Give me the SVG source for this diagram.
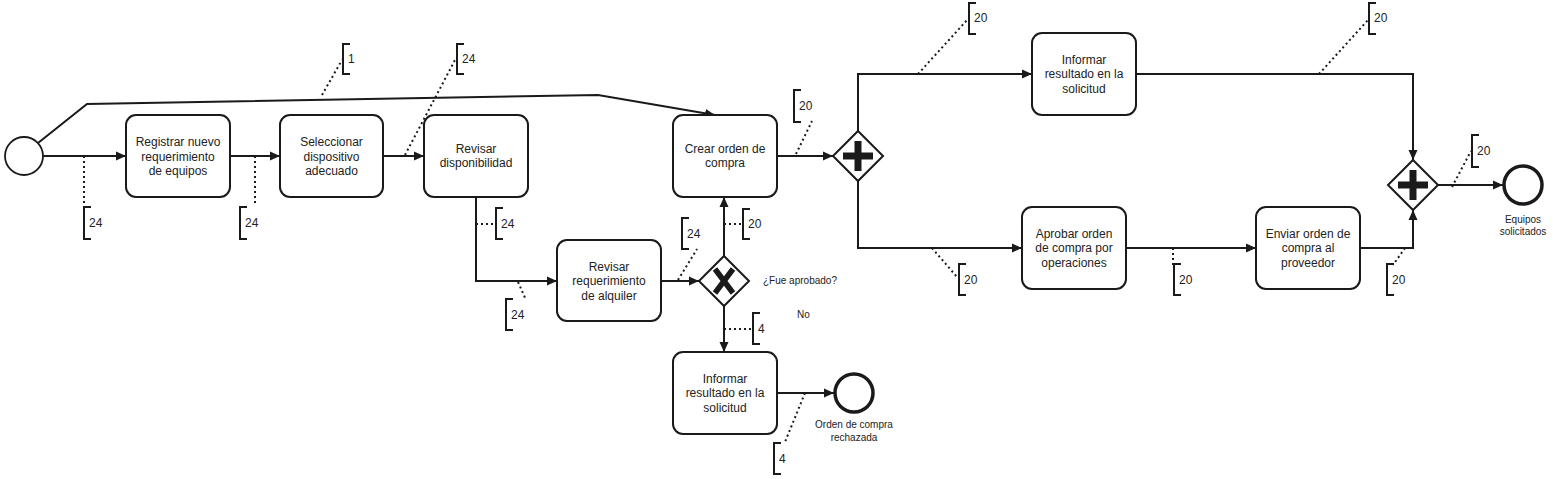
<svg xmlns="http://www.w3.org/2000/svg" width="1553" height="479" viewBox="0 0 1553 479">
<style>
.task{fill:#fff;stroke:#1a1a1a;stroke-width:2}
.t{font-family:"Liberation Sans",Arial,sans-serif;font-size:12px;fill:#222;text-anchor:middle}
.s{font-family:"Liberation Sans",Arial,sans-serif;font-size:10px;fill:#222}
.a{font-family:"Liberation Sans",Arial,sans-serif;font-size:12px;fill:#222}
.edge{fill:none;stroke:#1a1a1a;stroke-width:2;marker-end:url(#arr)}
.dot{fill:none;stroke:#1a1a1a;stroke-width:2;stroke-dasharray:2 3}
.br{fill:none;stroke:#1a1a1a;stroke-width:2}
.gw{fill:#fff;stroke:#1a1a1a;stroke-width:2}
</style>
<defs>
<marker id="arr" markerUnits="userSpaceOnUse" markerWidth="11" markerHeight="10" refX="10" refY="5" orient="auto">
<path d="M0,0.5 L10,5 L0,9.5 z" fill="#1a1a1a"/>
</marker>
</defs>
<rect width="1553" height="479" fill="#fff"/>

<g id="connectors">
<path class="edge" d="M43,156 H126"/>
<path class="edge" d="M38,143 L87,104 L598,95 L715,115"/>
<path class="edge" d="M230,156 H280"/>
<path class="edge" d="M383,156 H424"/>
<path class="edge" d="M476,197 V281 H557"/>
<path class="edge" d="M661,281 H699"/>
<path class="edge" d="M724,256 V197"/>
<path class="edge" d="M724,305 V352"/>
<path class="edge" d="M777,393 H834"/>
<path class="edge" d="M777,156 H833"/>
<path class="edge" d="M858,131 V74 H1032"/>
<path class="edge" d="M858,181 V248 H1022"/>
<path class="edge" d="M1126,248 H1256"/>
<path class="edge" d="M1136,74 H1413 V160"/>
<path class="edge" d="M1360,248 H1413 V210"/>
<path class="edge" d="M1438,185 H1503"/>
</g>

<g id="annotations">
<path class="dot" d="M84,156 V206"/>
<path class="br" d="M91,207 H84 V239 H91"/><text class="a" x="89" y="227">24</text>
<path class="dot" d="M255,156 V206"/>
<path class="br" d="M247,207 H240 V239 H247"/><text class="a" x="245" y="227">24</text>
<path class="dot" d="M322,95 L342,60"/>
<path class="br" d="M350,44 H343 V74 H350"/><text class="a" x="348" y="63">1</text>
<path class="dot" d="M405,155 L455,60"/>
<path class="br" d="M464,44 H457 V74 H464"/><text class="a" x="462" y="63">24</text>
<path class="dot" d="M476,224 H496"/>
<path class="br" d="M503,208 H496 V239 H503"/><text class="a" x="501" y="228">24</text>
<path class="dot" d="M518,282 L526,300"/>
<path class="br" d="M513,299 H506 V330 H513"/><text class="a" x="511" y="319">24</text>
<path class="dot" d="M678,280 L697,249"/>
<path class="br" d="M689,218 H682 V249 H689"/><text class="a" x="687" y="238">24</text>
<path class="dot" d="M724,224 H743"/>
<path class="br" d="M750,209 H743 V239 H750"/><text class="a" x="748" y="228">20</text>
<path class="dot" d="M724,329 H753"/>
<path class="br" d="M760,313 H753 V344 H760"/><text class="a" x="758" y="333">4</text>
<path class="dot" d="M805,393 L785,442"/>
<path class="br" d="M781,443 H774 V474 H781"/><text class="a" x="779" y="463">4</text>
<path class="dot" d="M796,154 L812,121"/>
<path class="br" d="M801,90 H794 V122 H801"/><text class="a" x="799" y="110">20</text>
<path class="dot" d="M918,74 L968,19"/>
<path class="br" d="M976,3 H969 V34 H976"/><text class="a" x="974" y="22">20</text>
<path class="dot" d="M932,248 L957,277"/>
<path class="br" d="M966,264 H959 V295 H966"/><text class="a" x="964" y="284">20</text>
<path class="dot" d="M1173,248 V266"/>
<path class="br" d="M1181,264 H1174 V295 H1181"/><text class="a" x="1179" y="284">20</text>
<path class="dot" d="M1319,74 L1368,20"/>
<path class="br" d="M1376,3 H1369 V34 H1376"/><text class="a" x="1374" y="22">20</text>
<path class="dot" d="M1405,248 L1393,265"/>
<path class="br" d="M1394,264 H1387 V295 H1394"/><text class="a" x="1392" y="284">20</text>
<path class="dot" d="M1452,187 L1471,151"/>
<path class="br" d="M1479,135 H1472 V167 H1479"/><text class="a" x="1477" y="155">20</text>
</g>

<g id="start">
<circle cx="24" cy="156" r="19" fill="#fff" stroke="#1a1a1a" stroke-width="1.8"/>
</g>

<g id="task-registrar">
<rect class="task" x="126" y="115" width="104" height="82" rx="10"/>
<text class="t" x="178" y="146">Registrar nuevo</text>
<text class="t" x="178" y="160.5">requerimiento</text>
<text class="t" x="178" y="175">de equipos</text>
</g>

<g id="task-seleccionar">
<rect class="task" x="280" y="115" width="103" height="82" rx="10"/>
<text class="t" x="331.5" y="146">Seleccionar</text>
<text class="t" x="331.5" y="160.5">dispositivo</text>
<text class="t" x="331.5" y="175">adecuado</text>
</g>

<g id="task-revisar-disp">
<rect class="task" x="424" y="115" width="104" height="82" rx="10"/>
<text class="t" x="476" y="152.5">Revisar</text>
<text class="t" x="476" y="167">disponibilidad</text>
</g>

<g id="task-crear">
<rect class="task" x="673" y="115" width="104" height="82" rx="10"/>
<text class="t" x="725" y="152.5">Crear orden de</text>
<text class="t" x="725" y="167">compra</text>
</g>

<g id="task-revisar-alq">
<rect class="task" x="557" y="240" width="104" height="81" rx="10"/>
<text class="t" x="609" y="270.5">Revisar</text>
<text class="t" x="609" y="285">requerimiento</text>
<text class="t" x="609" y="299.5">de alquiler</text>
</g>

<g id="gw-xor">
<path class="gw" d="M724,256 L749,281 L724,306 L699,281 z"/>
<path d="M715,269 L733,293 M733,269 L715,293" stroke="#1a1a1a" stroke-width="5.5" fill="none"/>
<text class="s" x="763" y="284">¿Fue aprobado?</text>
<text class="s" x="797" y="318">No</text>
</g>

<g id="task-informar-rech">
<rect class="task" x="673" y="352" width="104" height="82" rx="10"/>
<text class="t" x="725" y="382.5">Informar</text>
<text class="t" x="725" y="397">resultado en la</text>
<text class="t" x="725" y="411.5">solicitud</text>
</g>

<g id="end-rechazada">
<circle cx="854" cy="393" r="19" fill="#fff" stroke="#1a1a1a" stroke-width="3.5"/>
<text class="s" x="854" y="427.5" text-anchor="middle">Orden de compra</text>
<text class="s" x="854" y="440.5" text-anchor="middle">rechazada</text>
</g>

<g id="gw-and1">
<path class="gw" d="M858,131 L883,156 L858,181 L833,156 z"/>
<path d="M843,156 H873 M858,141 V171" stroke="#1a1a1a" stroke-width="7" fill="none"/>
</g>

<g id="task-informar-ok">
<rect class="task" x="1032" y="33" width="104" height="82" rx="10"/>
<text class="t" x="1084" y="63.5">Informar</text>
<text class="t" x="1084" y="78">resultado en la</text>
<text class="t" x="1084" y="92.5">solicitud</text>
</g>

<g id="task-aprobar">
<rect class="task" x="1022" y="207" width="104" height="82" rx="10"/>
<text class="t" x="1074" y="237.5">Aprobar orden</text>
<text class="t" x="1074" y="252">de compra por</text>
<text class="t" x="1074" y="266.5">operaciones</text>
</g>

<g id="task-enviar">
<rect class="task" x="1256" y="207" width="104" height="82" rx="10"/>
<text class="t" x="1308" y="237.5">Enviar orden de</text>
<text class="t" x="1308" y="252">compra al</text>
<text class="t" x="1308" y="266.5">proveedor</text>
</g>

<g id="gw-and2">
<path class="gw" d="M1413,160 L1438,185 L1413,210 L1388,185 z"/>
<path d="M1398,185 H1428 M1413,170 V200" stroke="#1a1a1a" stroke-width="7" fill="none"/>
</g>

<g id="end-equipos">
<circle cx="1523" cy="185" r="19" fill="#fff" stroke="#1a1a1a" stroke-width="3.5"/>
<text class="s" x="1523" y="222.5" text-anchor="middle">Equipos</text>
<text class="s" x="1523" y="235" text-anchor="middle">solicitados</text>
</g>
</svg>
